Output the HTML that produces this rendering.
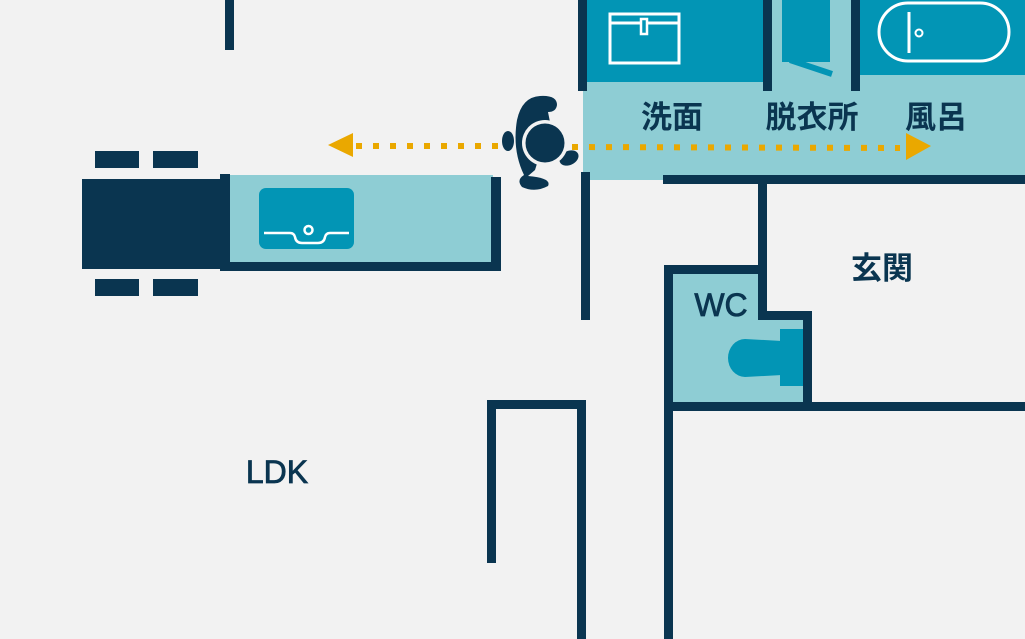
<!DOCTYPE html>
<html><head><meta charset="utf-8"><style>
html,body{margin:0;padding:0;background:#f2f2f2;width:1025px;height:639px;overflow:hidden}
svg{display:block}
text{font-family:"Liberation Sans","Noto Sans CJK JP",sans-serif;fill:#0a3550;font-weight:bold}
</style></head><body>
<svg width="1025" height="639" viewBox="0 0 1025 639" xmlns="http://www.w3.org/2000/svg">
<rect width="1025" height="639" fill="#f2f2f2"/>
<rect x="583" y="0" width="442" height="180" fill="#8ecdd4"/>
<rect x="583" y="0" width="185" height="82" fill="#0295b5"/>
<rect x="856" y="0" width="169" height="75" fill="#0295b5"/>
<rect x="782" y="0" width="48" height="62" fill="#0295b5"/>
<line x1="790" y1="60" x2="832" y2="74" stroke="#0295b5" stroke-width="6"/>
<rect x="610" y="14" width="69" height="49" fill="none" stroke="#fff" stroke-width="3"/>
<line x1="610" y1="23" x2="679" y2="23" stroke="#fff" stroke-width="3"/>
<rect x="641" y="19" width="6" height="15" fill="#0295b5" stroke="#fff" stroke-width="2.5"/>
<rect x="879" y="3" width="130" height="58" rx="29" fill="none" stroke="#fff" stroke-width="3"/>
<line x1="909" y1="12" x2="909" y2="53" stroke="#fff" stroke-width="3"/>
<circle cx="919" cy="33" r="3.5" fill="none" stroke="#fff" stroke-width="2"/>
<g fill="#0a3550">
<rect x="578" y="0" width="9" height="91"/>
<rect x="763" y="0" width="9" height="91"/>
<rect x="851" y="0" width="9" height="91"/>
<rect x="225" y="0" width="9" height="50"/>
<rect x="581" y="172" width="9" height="148"/>
<rect x="663" y="175" width="362" height="9"/>
<rect x="758" y="184" width="9" height="86"/>
</g>
<path d="M673 274 H760 V320 H803 V402 H673 Z" fill="#8ecdd4"/>
<rect x="780" y="329" width="23" height="57" fill="#0295b5"/>
<path d="M745 339 L782 341 L782 375 L745 377 A17 19 0 0 1 745 339 Z" fill="#0295b5"/>
<g fill="#0a3550">
<rect x="664" y="265" width="103" height="9"/>
<rect x="664" y="265" width="9" height="374"/>
<rect x="758" y="265" width="9" height="55"/>
<rect x="758" y="311" width="54" height="9"/>
<rect x="803" y="311" width="9" height="100"/>
<rect x="664" y="402" width="361" height="9"/>
<rect x="487" y="400" width="9" height="163"/>
<rect x="487" y="400" width="99" height="9"/>
<rect x="577" y="400" width="9" height="239"/>
</g>
<rect x="230" y="175" width="263" height="88" fill="#8ecdd4"/>
<g fill="#0a3550">
<rect x="82" y="179" width="145" height="90"/>
<rect x="95" y="151" width="44" height="17"/>
<rect x="153" y="151" width="45" height="17"/>
<rect x="95" y="279" width="44" height="17"/>
<rect x="153" y="279" width="45" height="17"/>
<rect x="220" y="174" width="10" height="97"/>
<rect x="220" y="262" width="281" height="9"/>
<rect x="491" y="177" width="10" height="94"/>
</g>
<rect x="259" y="188" width="95" height="61" rx="7" fill="#0295b5"/>
<path d="M264 233 H290 Q294 233 295 237 Q296 243 302 243 H318 Q324 243 325 237 Q326 233 330 233 H349" fill="none" stroke="#fff" stroke-width="2.5"/>
<circle cx="308.5" cy="230" r="4" fill="none" stroke="#fff" stroke-width="2.5"/>
<line x1="356" y1="146" x2="502" y2="146" stroke="#eaa800" stroke-width="6" stroke-dasharray="6 11"/>
<polygon points="328,145 353,133 353,157" fill="#eaa800"/>
<line x1="572" y1="147" x2="900" y2="148" stroke="#eaa800" stroke-width="6" stroke-dasharray="6 11"/>
<polygon points="931,146 906,133 906,160" fill="#eaa800"/>
<g fill="#0a3550">
<path d="M540 96 Q557 95 557 105 Q556 112 548 112 L550 122 L535 170 L528 176 Q552 178 548 186 Q535 193 522 187 Q516 180 524 175 Q512 150 517 120 Q522 97 540 96 Z"/>
<ellipse cx="508" cy="141" rx="6" ry="10"/>
<ellipse cx="569" cy="158" rx="10" ry="7" transform="rotate(-25 569 158)"/>
<circle cx="545" cy="143" r="23" fill="#f2f2f2"/>
<circle cx="545" cy="143" r="19.5"/>
</g>
<g font-size="31">
<text x="672" y="128" text-anchor="middle">洗面</text>
<text x="812" y="128" text-anchor="middle">脱衣所</text>
<text x="936" y="128" text-anchor="middle">風呂</text>
<text x="882" y="279" text-anchor="middle">玄関</text>
</g>
<text x="721" y="316" text-anchor="middle" font-size="32" style="font-weight:normal" stroke="#0a3550" stroke-width="0.8">WC</text>
<text x="277" y="483" text-anchor="middle" font-size="32" style="font-weight:normal" stroke="#0a3550" stroke-width="0.8">LDK</text>
</svg>
</body></html>
